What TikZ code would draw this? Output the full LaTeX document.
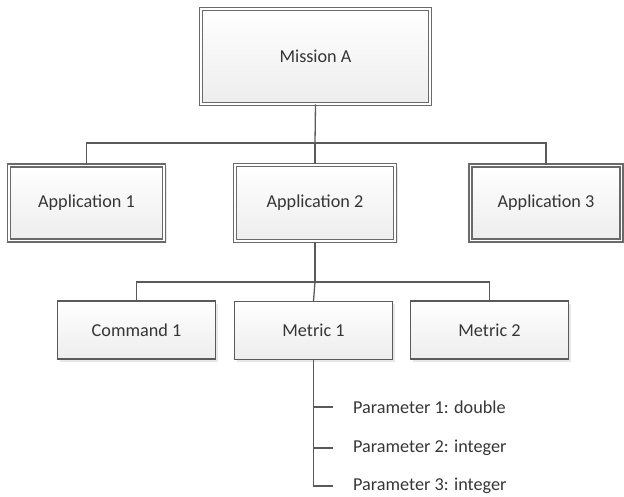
\documentclass[tikz,border=0pt]{standalone}
\usepackage{fontspec}
\setmainfont{Carlito}
\usetikzlibrary{shadows}
\definecolor{txt}{HTML}{363636}
\definecolor{edge}{HTML}{5A5A5A}
\definecolor{dbl}{HTML}{6A6A6A}
\definecolor{bot}{HTML}{EDEDED}
\begin{document}
\begin{tikzpicture}[x=1pt,y=-1pt,
  every node/.style={font=\fontsize{18.2}{22}\selectfont, text=txt},
  dblbox/.style={draw=dbl, line width=1.2pt, double=white, double distance=1.8pt,
    top color=white, bottom color=bot, inner sep=0pt,
    drop shadow={shadow xshift=2.5pt, shadow yshift=-2.5pt, opacity=0.18, fill=gray}},
  sglbox/.style={draw=edge, line width=1.3pt, top color=white, bottom color=bot,
    inner sep=0pt, minimum width=158pt, minimum height=58pt,
    drop shadow={shadow xshift=2.5pt, shadow yshift=-2.5pt, opacity=0.18, fill=gray}},
  conn/.style={draw=edge, line width=1.3pt},
  param/.style={anchor=west, inner sep=0pt}
]
\useasboundingbox (0,0) rectangle (624,497);

\node[dblbox, minimum width=228.6pt, minimum height=94.6pt] (m) at (315.5,56.5) {Mission A};
\node[dblbox, minimum width=155pt, minimum height=75pt] (a1) at (86.5,203) {Application 1};
\node[dblbox, minimum width=160pt, minimum height=76pt] (a2) at (315,203) {Application 2};
\node[dblbox, minimum width=151pt, minimum height=75pt] (a3) at (546,203) {Application 3};

\node[sglbox] (c1) at (136.5,330) {Command 1};
\node[sglbox] (m1) at (313.5,330.5) {Metric 1};
\node[sglbox] (m2) at (489.5,330) {Metric 2};

\node[param] (p1) at (353,407) {Parameter 1: double};
\node[param] (p2) at (353,448) {Parameter 2: integer};
\node[param] (p3) at (353,486) {Parameter 3: integer};

\coordinate (j1) at (315,143);
\coordinate (j2) at (315,282);

\draw[conn] (m.south) -- (j1);
\draw[conn] (a1.north) |- (j1) -| (a3.north);
\draw[conn] (j1) -- (a2.north);

\draw[conn] (a2.south) -- (j2);
\draw[conn] (c1.north) |- (j2) -| (m2.north);
\draw[conn] (j2) -- (m1.north);

\draw[conn] (m1.south) |- ([xshift=-20pt]p3.west);
\draw[conn] (m1.south |- p1.west) -- ([xshift=-20pt]p1.west);
\draw[conn] (m1.south |- p2.west) -- ([xshift=-20pt]p2.west);
\end{tikzpicture}
\end{document}
